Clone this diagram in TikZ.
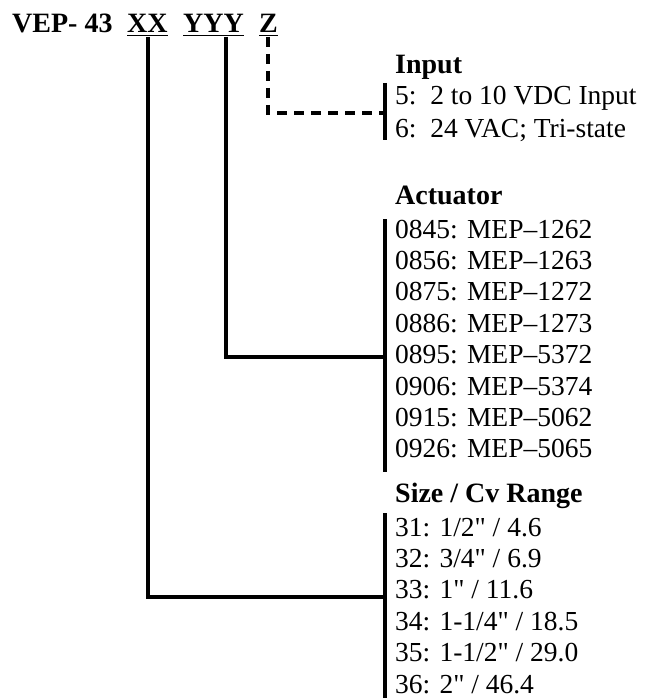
\documentclass[tikz,border=0pt]{standalone}
\usepackage{fontspec}
\setmainfont{Liberation Serif}[Ligatures=TeXReset]
\begin{document}
\begin{tikzpicture}[x=1pt,y=-1pt,
    lbl/.style={anchor=base west,inner sep=0pt,font=\fontsize{27.5}{31}\selectfont},
    head/.style={lbl,font=\fontsize{28}{31}\selectfont\bfseries},
    uline/.style={line width=1.6pt},
    link/.style={line width=3.6pt},
    bar/.style={line width=4pt}]
    \useasboundingbox (0,0) rectangle (654,698);
    % part number
    \node[head] (vep) at (12,33) {VEP- 43};
    \node[head] (xx) at (127,33) {XX};
    \node[head] (yyy) at (183,33) {YYY};
    \node[head] (zz) at (259,33) {Z};
    \foreach \part in {xx,yyy,zz}
        \draw[uline] ([yshift=-2.6pt]\part.base west) -- ([yshift=-2.6pt]\part.base east);
    % option lists
    \node[head] (input) at (395,74) {Input};
    \node[lbl] (in0) at (395,105) {5:\ \ 2 to 10 VDC Input};
    \node[lbl] (in1) at (395,137) {6:\ \ 24 VAC; Tri-state};
    \node[head] (actuator) at (395,204) {Actuator};
    \foreach \txt [count=\i from 0] in {0845: MEP–1262,0856: MEP–1263,0875: MEP–1272,0886: MEP–1273,0895: MEP–5372,0906: MEP–5374,0915: MEP–5062,0926: MEP–5065}
        \node[lbl] (act\i) at (395,{238+31.4*\i}) {\txt};
    \node[head] (size) at (395,502) {Size / Cv Range};
    \foreach \txt [count=\i from 0] in {31: 1/2" / 4.6,32: 3/4" / 6.9,33: 1" / 11.6,34: 1-1/4" / 18.5,35: 1-1/2" / 29.0,36: 2" / 46.4}
        \node[lbl] (sz\i) at (395,{536+31.4*\i}) {\txt};
    % brackets
    \coordinate (intop) at (385,83);
    \coordinate (inbot) at (385,140);
    \coordinate (injoin) at (385,113);
    \coordinate (acttop) at (385,219);
    \coordinate (actbot) at (385,472);
    \coordinate (actjoin) at (385,357);
    \coordinate (sztop) at (385,513);
    \coordinate (szbot) at (385,698);
    \coordinate (szjoin) at (385,597);
    \draw[bar] (intop) -- (inbot);
    \draw[bar] (acttop) -- (actbot);
    \draw[bar] (sztop) -- (szbot);
    % connectors
    \coordinate (xxdrop) at (148,37);
    \coordinate (yyydrop) at (226,37);
    \coordinate (zzdrop) at (268,37);
    \draw[link] (xxdrop) |- (szjoin);
    \draw[link] (yyydrop) |- (actjoin);
    \draw[link,dash pattern=on 10pt off 7pt] (zzdrop) |- (injoin);
\end{tikzpicture}
\end{document}
